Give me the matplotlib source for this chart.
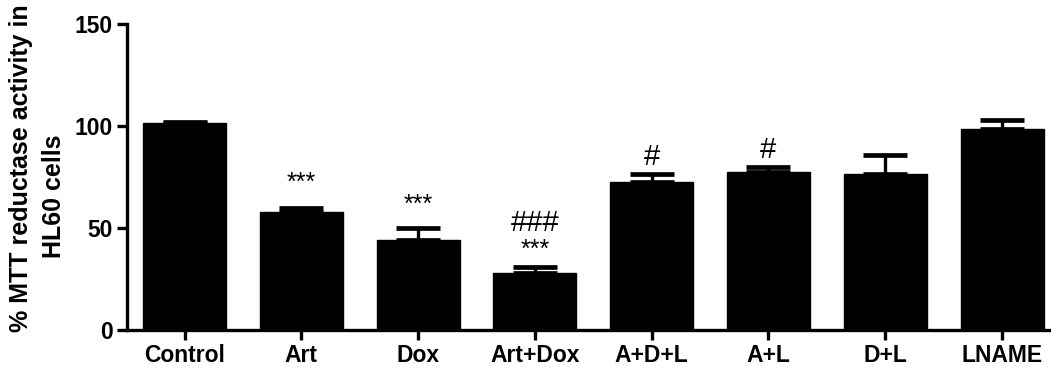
import matplotlib
matplotlib.use("Agg")
import matplotlib.pyplot as plt

# values
groups = ["Control", "Art", "Dox", "Art+Dox", "A+D+L", "A+L", "D+L", "LNAME"]
means = [101.6, 58.0, 44.0, 28.1, 72.4, 77.6, 76.3, 98.5]
sem = [0.4, 2.0, 6.2, 2.6, 3.9, 2.1, 9.3, 4.3]
# significance marks: (group index, text, y position, font size)
marks = [
    (1, "***", 72.0, 18),
    (2, "***", 61.3, 18),
    (3, "###", 52.6, 21),
    (3, "***", 39.2, 18),
    (4, "#", 85.0, 21),
    (5, "#", 88.2, 21),
]
ylabel_lines = ["% MTT reductase activity in", "HL60 cells"]

plt.rcParams["font.family"] = ["Liberation Sans", "DejaVu Sans"]

fig = plt.figure(figsize=(10.51, 3.70), dpi=100)
ax = fig.add_axes([0.1208, 0.108, 0.8782, 0.827])

x = list(range(len(groups)))
lower = [0] * len(groups)
ax.bar(x, means, width=0.71, color="black", edgecolor="black", zorder=2)
ax.errorbar(x, means, yerr=[lower, sem], fmt="none", ecolor="black",
            elinewidth=2.4, capsize=15.5, capthick=3.4, zorder=3)

for i, txt, y, size in marks:
    ax.text(i, y, txt, ha="center", va="center", fontsize=size, color="black")

ax.set_xlim(-0.493, 7.41)
ax.set_ylim(0, 150)
ax.set_yticks([0, 50, 100, 150])
ax.set_xticks(x)
ax.set_xticklabels(groups)

for side in ("top", "right"):
    ax.spines[side].set_visible(False)
for side in ("left", "bottom"):
    ax.spines[side].set_linewidth(2.4)

ax.tick_params(axis="both", width=2.4, length=7, labelsize=16.5, pad=3)
for lab in ax.get_xticklabels() + ax.get_yticklabels():
    lab.set_fontweight("bold")

# the two label lines are not centred on each other in the original
fig.text(21 / 1051, (370 - 168) / 370, ylabel_lines[0], rotation=90,
         ha="center", va="center", fontsize=18, fontweight="bold")
fig.text(54 / 1051, (370 - 196) / 370, ylabel_lines[1], rotation=90,
         ha="center", va="center", fontsize=18, fontweight="bold")

fig.savefig("out.png", dpi=100)
